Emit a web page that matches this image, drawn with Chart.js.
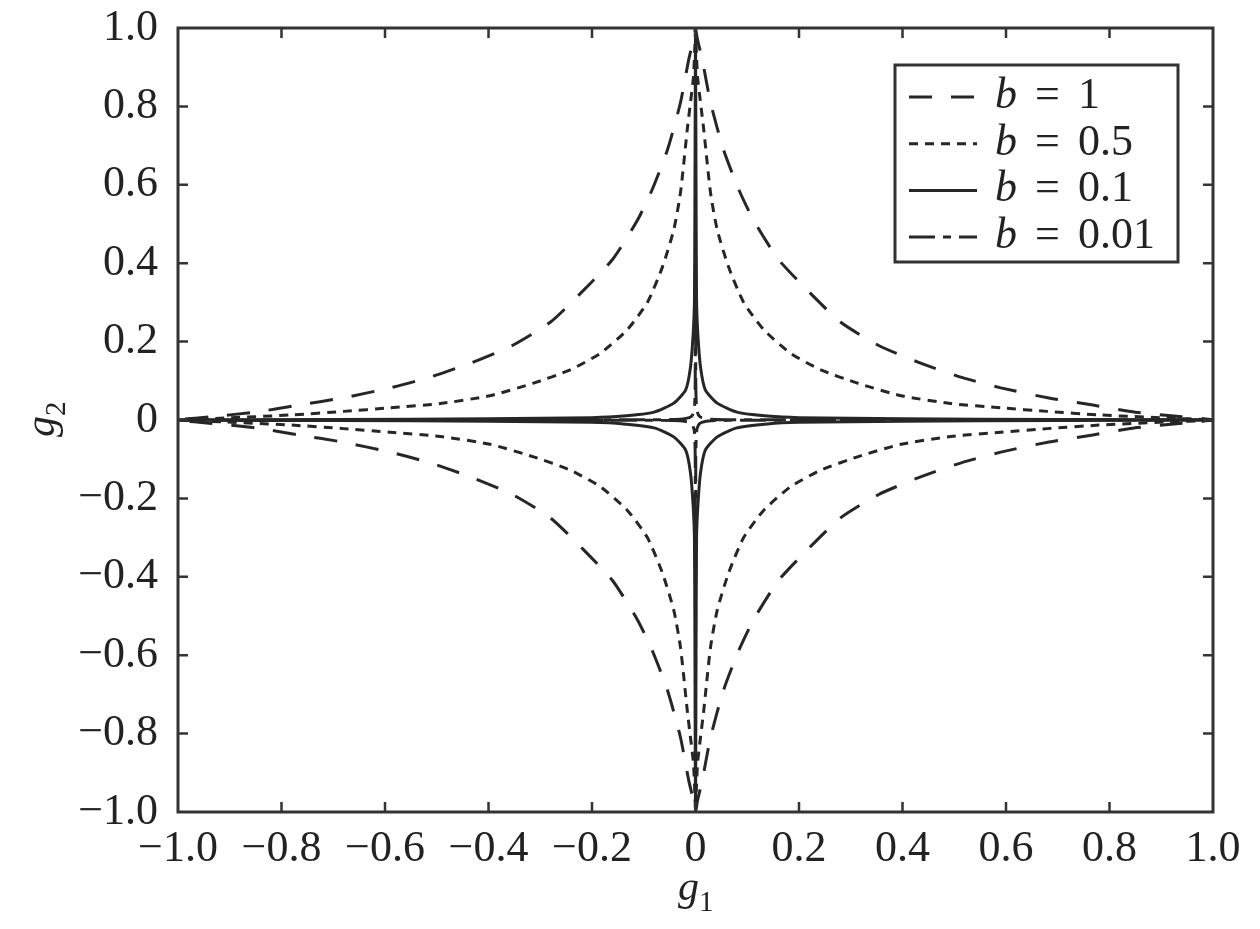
<!DOCTYPE html>
<html>
<head>
<meta charset="utf-8">
<script src="https://cdn.jsdelivr.net/npm/chart.js@4.4.1/dist/chart.umd.min.js"></script>
<style>
  body { margin: 0; background: #fff; }
</style>
</head>
<body>
<canvas id="chart" width="1260" height="929"></canvas>
<script>
// first-quadrant branch of each curve (g1 rising, g2 falling)
const g1_b1 = [0, 0.004, 0.013, 0.029, 0.054, 0.083, 0.112, 0.16, 0.217, 0.28, 0.354, 0.435, 0.516, 0.59, 0.683, 0.768, 0.85, 0.94, 1.0];
const g2_b1 = [1.0, 0.97, 0.92, 0.81, 0.69, 0.59, 0.51, 0.41, 0.33, 0.25, 0.19, 0.145, 0.108, 0.082, 0.056, 0.038, 0.02, 0.008, 0];

const g1_b05 = [0, 0.001, 0.004, 0.0097, 0.016, 0.029, 0.042, 0.064, 0.093, 0.132, 0.184, 0.242, 0.313, 0.397, 0.493, 0.59, 0.68, 0.78, 0.91, 1.0];
const g2_b05 = [1.0, 0.96, 0.875, 0.81, 0.74, 0.58, 0.485, 0.39, 0.30, 0.23, 0.17, 0.128, 0.094, 0.062, 0.042, 0.031, 0.022, 0.013, 0.005, 0];

const g1_b01 = [0, 0.001, 0.002, 0.0045, 0.0097, 0.019, 0.042, 0.08, 0.139, 0.2, 0.4, 0.7, 1.0];
const g2_b01 = [1.0, 0.6, 0.306, 0.22, 0.135, 0.077, 0.043, 0.02, 0.01, 0.006, 0.003, 0.0015, 0];

const g1_b001 = [0, 0.0005, 0.002, 0.006, 0.012, 0.03, 0.1, 0.5, 1.0];
const g2_b001 = [1.0, 0.1, 0.03, 0.012, 0.006, 0.002, 0.0005, 0.0001, 0];

const bValues = ["1", "0.5", "0.1", "0.01"];
const xTicks = [-1, -0.8, -0.6, -0.4, -0.2, 0, 0.2, 0.4, 0.6, 0.8, 1];
const yTicks = [-1, -0.8, -0.6, -0.4, -0.2, 0, 0.2, 0.4, 0.6, 0.8, 1];

const ink = '#262626';
const serif = '"Liberation Serif", "DejaVu Serif", serif';
const dashes = [[23, 19], [9, 7], [], [26, 8, 8, 8]];

// mirror one branch into the four quadrants, walked as one closed star
function star(gx, gy) {
  const n = gx.length, pts = [];
  for (let i = 0; i < n; i++) pts.push({x: gx[i], y: gy[i]});
  for (let i = n - 2; i >= 0; i--) pts.push({x: gx[i], y: -gy[i]});
  for (let i = 1; i < n; i++) pts.push({x: -gx[i], y: -gy[i]});
  for (let i = n - 2; i >= 0; i--) pts.push({x: -gx[i], y: gy[i]});
  return pts;
}

function fmt(v) {
  if (Math.abs(v) < 1e-9) return '0';
  return v.toFixed(1).replace('-', '\u2212');
}

const curves = [star(g1_b1, g2_b1), star(g1_b05, g2_b05), star(g1_b01, g2_b01), star(g1_b001, g2_b001)];

const frame = {
  id: 'frame',
  afterDraw(chart) {
    const c = chart.ctx, a = chart.chartArea;
    const sx = chart.scales.x, sy = chart.scales.y;
    c.save();
    c.strokeStyle = '#333';
    // inward ticks on all four sides
    c.lineWidth = 2.5;
    xTicks.slice(1, -1).forEach(v => {
      const px = sx.getPixelForValue(v);
      c.beginPath();
      c.moveTo(px, a.bottom); c.lineTo(px, a.bottom - 10);
      c.moveTo(px, a.top); c.lineTo(px, a.top + 10);
      c.stroke();
    });
    yTicks.slice(1, -1).forEach(v => {
      const py = sy.getPixelForValue(v);
      c.beginPath();
      c.moveTo(a.left, py); c.lineTo(a.left + 10, py);
      c.moveTo(a.right, py); c.lineTo(a.right - 10, py);
      c.stroke();
    });
    c.lineWidth = 3;
    c.strokeRect(a.left, a.top, a.right - a.left, a.bottom - a.top);

    // legend box
    const lx = 895, ly = 65, lw = 283, lh = 197;
    c.fillStyle = '#fff';
    c.fillRect(lx, ly, lw, lh);
    c.strokeRect(lx, ly, lw, lh);
    chart.data.datasets.forEach((ds, i) => {
      const y = 97 + i * 46.7;
      c.strokeStyle = ink;
      c.lineWidth = 3;
      c.setLineDash(ds.borderDash);
      c.beginPath(); c.moveTo(909, y); c.lineTo(977, y); c.stroke();
      c.setLineDash([]);
      c.fillStyle = '#222';
      c.textBaseline = 'alphabetic';
      c.textAlign = 'left';
      c.font = 'italic 44px ' + serif;
      c.fillText('b', 995, y + 11);
      c.font = '44px ' + serif;
      c.fillText('=', 1035, y + 11);
      c.fillText(bValues[i], 1078, y + 11);
    });

    // axis titles with subscripts
    c.fillStyle = '#222';
    c.textAlign = 'left';
    c.textBaseline = 'alphabetic';
    c.font = 'italic 42px ' + serif;
    c.fillText('g', 678, 900);
    c.font = '29px ' + serif;
    c.fillText('1', 699, 911);

    c.translate(54, 437);
    c.rotate(-Math.PI / 2);
    c.font = 'italic 42px ' + serif;
    c.fillText('g', 0, 0);
    c.font = '29px ' + serif;
    c.fillText('2', 21, 11);
    c.restore();
  }
};

new Chart(document.getElementById('chart'), {
  type: 'scatter',
  data: {
    datasets: curves.map((pts, i) => ({
      label: 'b = ' + bValues[i],
      data: pts,
      showLine: true,
      borderColor: ink,
      borderWidth: 3,
      borderDash: dashes[i],
      pointRadius: 0,
      tension: 0.2,
      fill: false
    }))
  },
  options: {
    responsive: false,
    animation: false,
    devicePixelRatio: 1,
    layout: { padding: { left: 0, top: 28, right: 47, bottom: 0 } },
    plugins: { legend: { display: false }, tooltip: { enabled: false } },
    scales: {
      x: {
        type: 'linear', min: -1, max: 1,
        grid: { display: false, drawTicks: false },
        border: { display: false },
        afterBuildTicks: s => { s.ticks = xTicks.map(v => ({ value: v })); },
        afterFit: s => { s.height = 929 - 812; s.paddingLeft = 0; s.paddingRight = 0; },
        ticks: {
          padding: 11, maxRotation: 0, autoSkip: false,
          color: '#222', font: { family: serif, size: 44 },
          callback: v => fmt(v)
        }
      },
      y: {
        type: 'linear', min: -1, max: 1,
        grid: { display: false, drawTicks: false },
        border: { display: false },
        afterBuildTicks: s => { s.ticks = yTicks.map(v => ({ value: v })); },
        afterFit: s => { s.width = 178; s.paddingTop = 0; s.paddingBottom = 0; },
        ticks: {
          padding: 20, autoSkip: false,
          color: '#222', font: { family: serif, size: 44 },
          callback: v => fmt(v)
        }
      }
    }
  },
  plugins: [frame]
});
</script>
</body>
</html>
